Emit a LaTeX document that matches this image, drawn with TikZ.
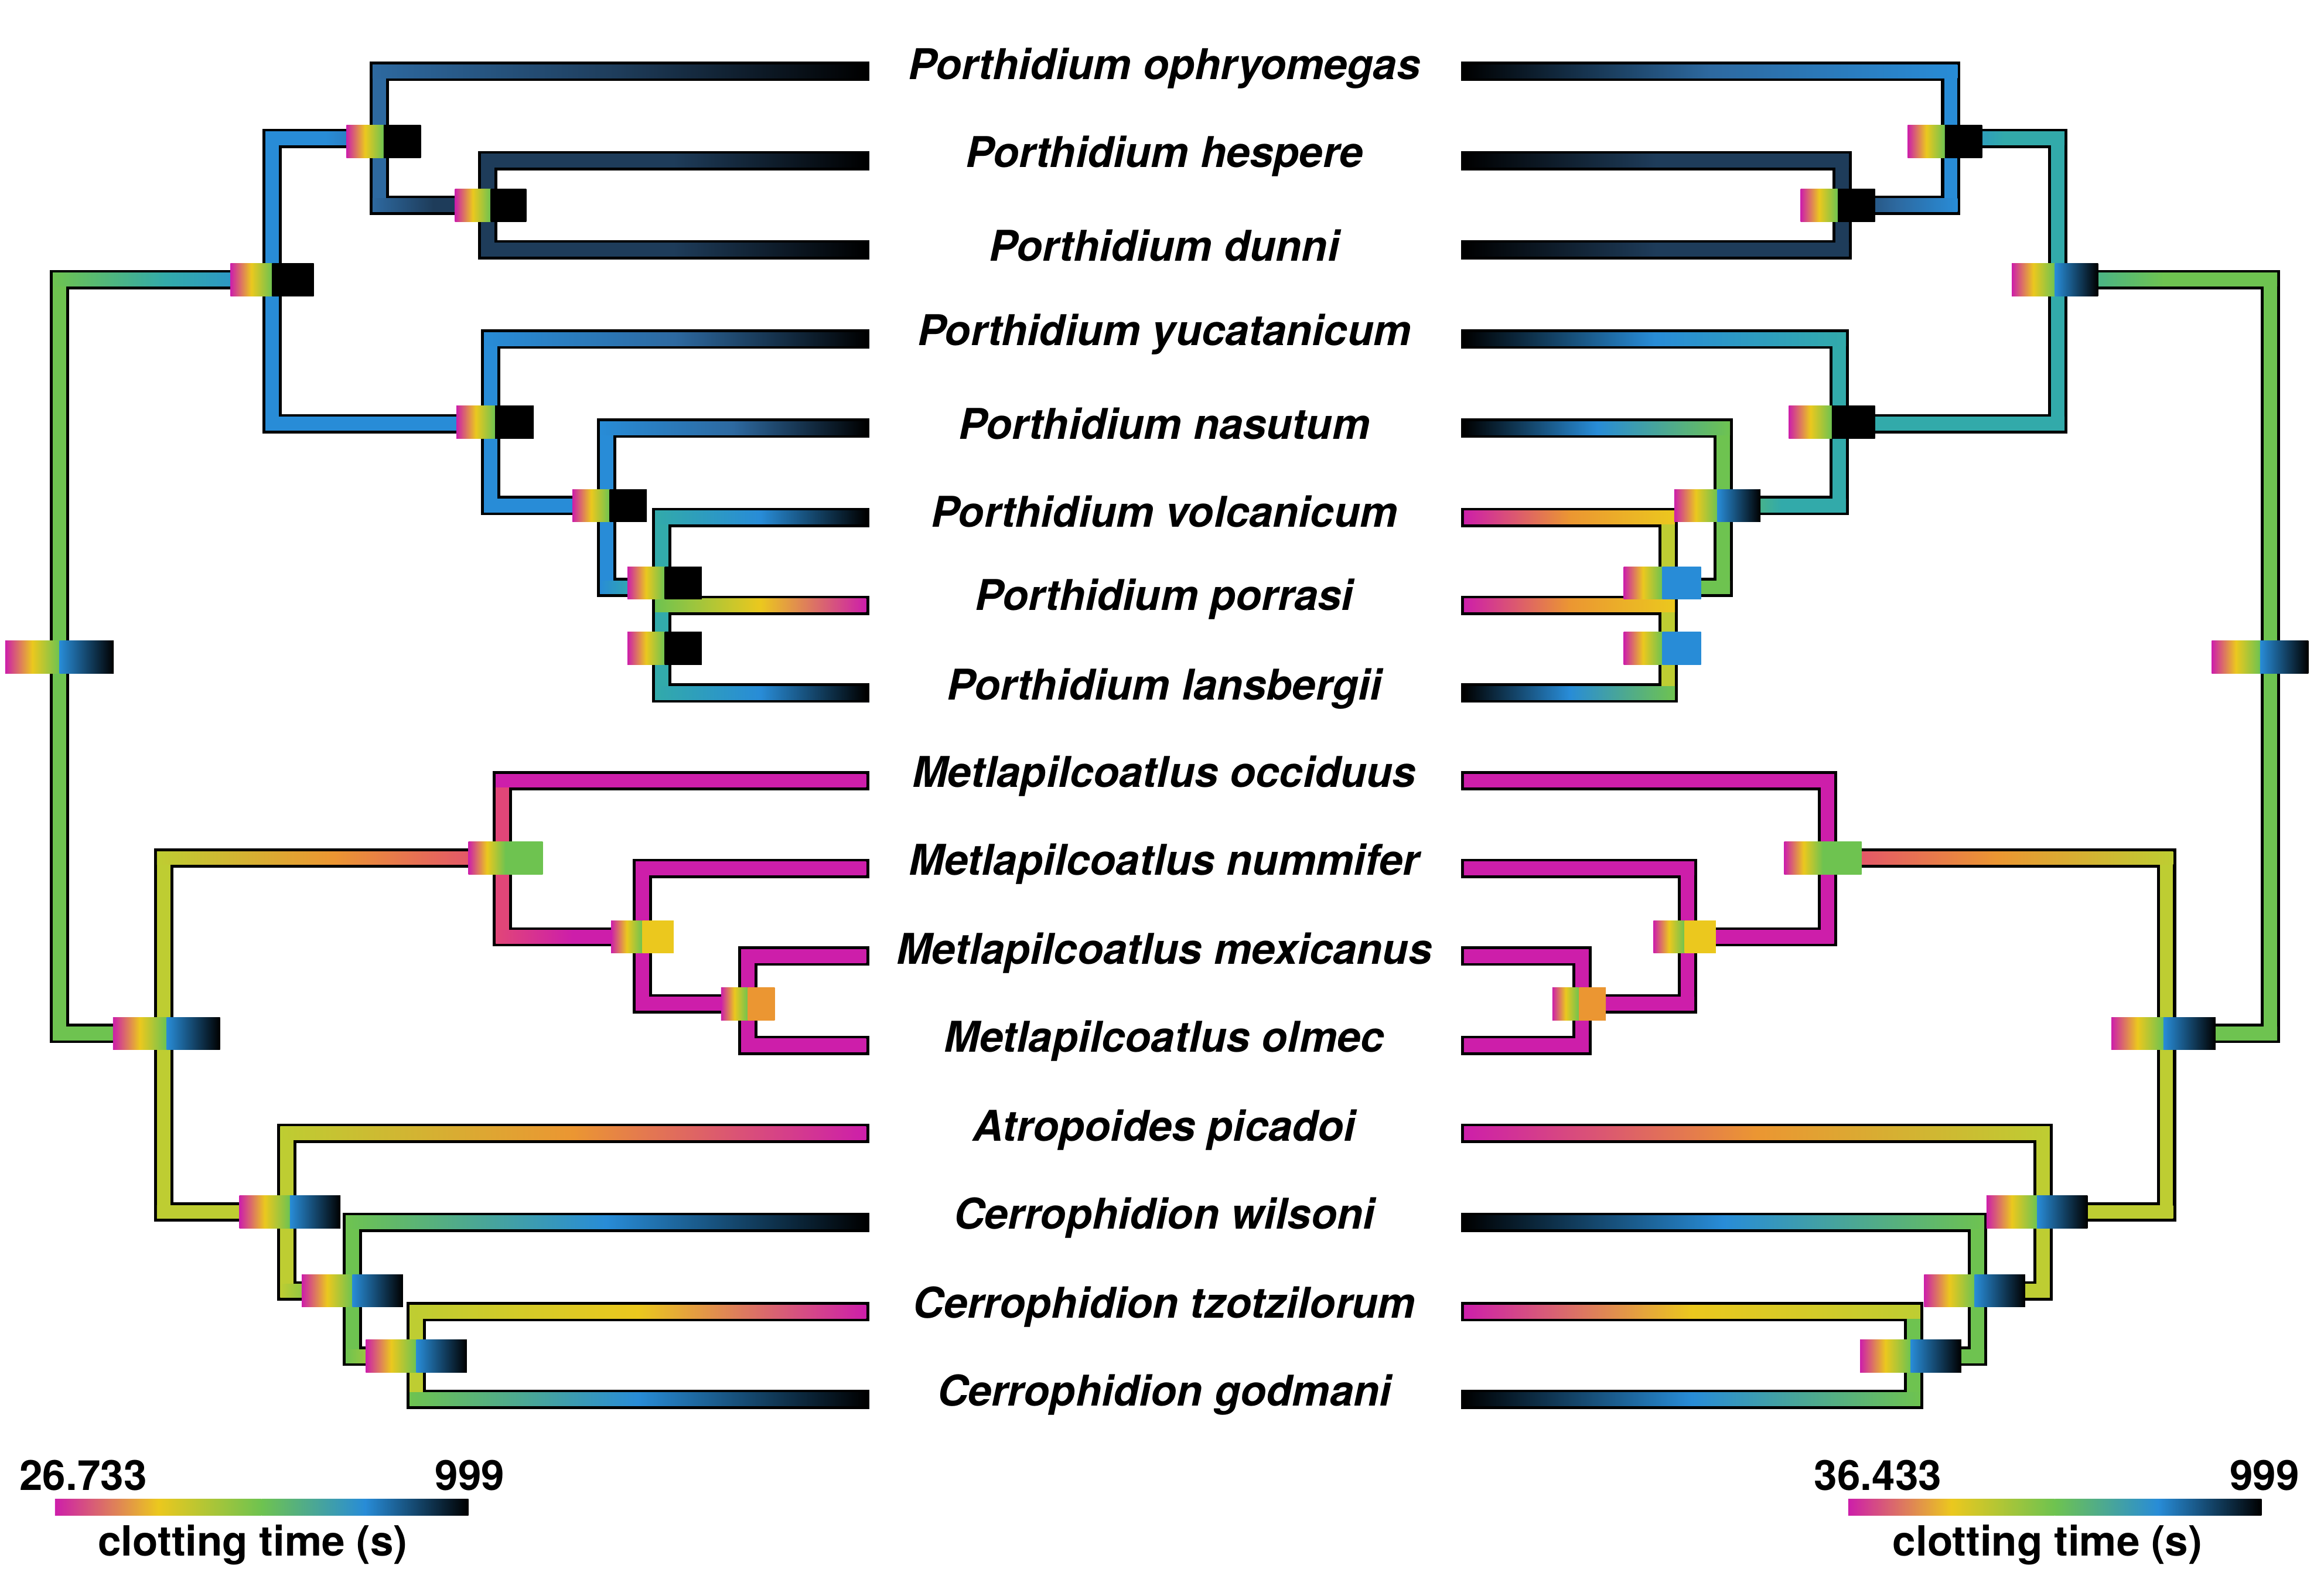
\documentclass[tikz,border=0pt]{standalone}
\usepackage{fontspec}
\setmainfont{TeX Gyre Heros}
\definecolor{mg}{RGB}{205,30,170}
\definecolor{rd}{RGB}{225,70,120}
\definecolor{orc}{RGB}{235,150,50}
\definecolor{yl}{RGB}{235,200,30}
\definecolor{yg}{RGB}{190,205,50}
\definecolor{gn}{RGB}{110,195,80}
\definecolor{tl}{RGB}{50,170,170}
\definecolor{bl}{RGB}{40,140,215}
\definecolor{sb}{RGB}{45,105,160}
\definecolor{nv}{RGB}{30,60,90}
\definecolor{bk}{RGB}{0,0,0}
\newif\ifoutl
\newcommand{\hb}[6]{\ifoutl\fill[black] (#1-6.5,#3-6.5) rectangle (#2+6.5,#3+6.5);\else
 \shade[left color=#4, right color=#6, middle color=#5] (#1-4.5,#3-4.5) rectangle (#2+4.5,#3+4.5);\fi}
\newcommand{\vb}[4]{\ifoutl\fill[black] (#1-6.5,#2-6.5) rectangle (#1+6.5,#3+6.5);\else
 \fill[#4] (#1-4.5,#2-4.5) rectangle (#1+4.5,#3+4.5);\fi}
\newcommand{\nb}[5]{\shade[left color=mg, right color=gn, middle color=yl] (#1-#3/2,#2-11) rectangle (#1,#2+11);
 \shade[left color=#4, right color=#5] (#1,#2-11) rectangle (#1+#3/2,#2+11);}
\newcommand{\treeL}{%
\vb{40}{188}{695}{gn}
\hb{40}{183}{188}{gn}{tl}{bl}
\vb{183}{93}{285}{bl}
\hb{183}{255}{93}{bl}{bl}{sb}
\vb{255}{48}{138}{sb}
\hb{255}{578}{48}{sb}{nv}{bk}
\hb{255}{328}{138}{sb}{nv}{nv}
\vb{328}{108}{168}{nv}
\hb{328}{578}{108}{nv}{nv}{bk}
\hb{328}{578}{168}{nv}{nv}{bk}
\hb{183}{330}{285}{bl}{bl}{bl}
\vb{330}{228}{340}{bl}
\hb{330}{578}{228}{bl}{sb}{bk}
\hb{330}{408}{340}{bl}{bl}{bl}
\vb{408}{288}{395}{bl}
\hb{408}{578}{288}{bl}{sb}{bk}
\hb{408}{445}{395}{bl}{tl}{tl}
\vb{445}{348}{466}{tl}
\hb{445}{578}{348}{tl}{bl}{bk}
\hb{445}{578}{407}{gn}{yl}{mg}
\hb{445}{578}{466}{tl}{bl}{bk}
\hb{40}{110}{695}{gn}{gn}{yg}
\vb{110}{577}{815}{yg}
\hb{110}{338}{577}{yg}{orc}{rd}
\vb{338}{525}{630}{rd}
\hb{338}{578}{525}{mg}{mg}{mg}
\hb{338}{432}{630}{rd}{mg}{mg}
\vb{432}{584}{675}{mg}
\hb{432}{578}{584}{mg}{mg}{mg}
\hb{432}{503}{675}{mg}{mg}{mg}
\vb{503}{643}{703}{mg}
\hb{503}{578}{643}{mg}{mg}{mg}
\hb{503}{578}{703}{mg}{mg}{mg}
\hb{110}{193}{815}{yg}{yg}{yg}
\vb{193}{762}{868}{yg}
\hb{193}{578}{762}{yg}{orc}{mg}
\hb{193}{237}{868}{yg}{gn}{gn}
\vb{237}{822}{912}{gn}
\hb{237}{578}{822}{gn}{bl}{bk}
\hb{237}{280}{912}{gn}{yg}{yg}
\vb{280}{882}{941}{yg}
\hb{280}{578}{882}{yg}{yl}{mg}
\hb{280}{578}{941}{gn}{bl}{bk}}
\newcommand{\treeR}{%
\vb{1527}{188}{695}{gn}
\hb{1384}{1527}{188}{tl}{gn}{gn}
\vb{1384}{93}{285}{tl}
\hb{1312}{1384}{93}{bl}{tl}{tl}
\vb{1312}{48}{138}{bl}
\hb{989}{1312}{48}{bk}{sb}{bl}
\hb{1239}{1312}{138}{nv}{sb}{bl}
\vb{1239}{108}{168}{nv}
\hb{989}{1239}{108}{bk}{nv}{nv}
\hb{989}{1239}{168}{bk}{nv}{nv}
\hb{1237}{1384}{285}{tl}{tl}{tl}
\vb{1237}{228}{340}{tl}
\hb{989}{1237}{228}{bk}{bl}{tl}
\hb{1159}{1237}{340}{gn}{tl}{tl}
\vb{1159}{288}{395}{gn}
\hb{989}{1159}{288}{bk}{bl}{gn}
\hb{1122}{1159}{395}{yg}{gn}{gn}
\vb{1122}{348}{466}{yg}
\hb{989}{1122}{348}{mg}{orc}{yl}
\hb{989}{1122}{407}{mg}{orc}{yl}
\hb{989}{1122}{466}{bk}{bl}{gn}
\hb{1457}{1527}{695}{yg}{gn}{gn}
\vb{1457}{577}{815}{yg}
\hb{1229}{1457}{577}{rd}{orc}{yg}
\vb{1229}{525}{630}{mg}
\hb{989}{1229}{525}{mg}{mg}{mg}
\hb{1135}{1229}{630}{mg}{mg}{mg}
\vb{1135}{584}{675}{mg}
\hb{989}{1135}{584}{mg}{mg}{mg}
\hb{1064}{1135}{675}{mg}{mg}{mg}
\vb{1064}{643}{703}{mg}
\hb{989}{1064}{643}{mg}{mg}{mg}
\hb{989}{1064}{703}{mg}{mg}{mg}
\hb{1374}{1457}{815}{yg}{yg}{yg}
\vb{1374}{762}{868}{yg}
\hb{989}{1374}{762}{mg}{orc}{yg}
\hb{1330}{1374}{868}{gn}{yg}{yg}
\vb{1330}{822}{912}{gn}
\hb{989}{1330}{822}{bk}{bl}{gn}
\hb{1287}{1330}{912}{gn}{gn}{gn}
\vb{1287}{882}{941}{gn}
\hb{989}{1287}{882}{mg}{yl}{yg}
\hb{989}{1287}{941}{bk}{bl}{gn}}
\begin{document}
\begin{tikzpicture}[x=1pt,y=-1pt,
 taxon/.style={font=\fontsize{28.5}{32}\selectfont\bfseries\itshape, anchor=center},
 lab/.style={font=\fontsize{28}{32}\selectfont\bfseries}]
\useasboundingbox[fill=white] (0,0) rectangle (1563,1073);
\outltrue \treeL \treeR
\outlfalse \treeL \treeR
% node boxes left
\nb{40}{442}{73}{bl}{bk}
\nb{183}{188}{56}{bk}{bk}
\nb{258}{95}{50}{bk}{bk}
\nb{330}{138}{48}{bk}{bk}
\nb{333}{284}{52}{bk}{bk}
\nb{410}{340}{50}{bk}{bk}
\nb{447}{392}{50}{bk}{bk}
\nb{447}{436}{50}{bk}{bk}
\nb{112}{695}{72}{bl}{bk}
\nb{340}{577}{50}{gn}{gn}
\nb{432}{630}{42}{yl}{yl}
\nb{503}{675}{36}{orc}{orc}
\nb{195}{815}{68}{bl}{bk}
\nb{237}{868}{68}{bl}{bk}
\nb{280}{912}{68}{bl}{bk}
% node boxes right
\nb{1520}{442}{65}{bl}{bk}
\nb{1382}{188}{58}{bl}{bk}
\nb{1308}{95}{50}{bk}{bk}
\nb{1236}{138}{50}{bk}{bk}
\nb{1232}{284}{58}{bk}{bk}
\nb{1155}{340}{58}{bl}{bk}
\nb{1118}{392}{52}{bl}{bl}
\nb{1118}{436}{52}{bl}{bl}
\nb{1455}{695}{70}{bl}{bk}
\nb{1226}{577}{52}{gn}{gn}
\nb{1133}{630}{42}{yl}{yl}
\nb{1062}{675}{36}{orc}{orc}
\nb{1370}{815}{68}{bl}{bk}
\nb{1328}{868}{68}{bl}{bk}
\nb{1285}{912}{68}{bl}{bk}
% taxa
\node[taxon] (t1) at (783,46) {Porthidium ophryomegas};
\node[taxon] (t2) at (783,105) {Porthidium hespere};
\node[taxon] (t3) at (783,165) {Porthidium dunni};
\node[taxon] (t4) at (783,225) {Porthidium yucatanicum};
\node[taxon] (t5) at (783,285) {Porthidium nasutum};
\node[taxon] (t6) at (783,344) {Porthidium volcanicum};
\node[taxon] (t7) at (783,403) {Porthidium porrasi};
\node[taxon] (t8) at (783,463) {Porthidium lansbergii};
\node[taxon] (t9) at (783,522) {Metlapilcoatlus occiduus};
\node[taxon] (t10) at (783,581) {Metlapilcoatlus nummifer};
\node[taxon] (t11) at (783,641) {Metlapilcoatlus mexicanus};
\node[taxon] (t12) at (783,700) {Metlapilcoatlus olmec};
\node[taxon] (t13) at (783,760) {Atropoides picadoi};
\node[taxon] (t14) at (783,819) {Cerrophidion wilsoni};
\node[taxon] (t15) at (783,879) {Cerrophidion tzotzilorum};
\node[taxon] (t16) at (783,938) {Cerrophidion godmani};
% legends
\shade[left color=mg, right color=gn, middle color=yl] (37,1008) rectangle (176,1019);
\shade[left color=gn, right color=bk, middle color=bl] (176,1008) rectangle (315,1019);
\node[lab] (l1) at (56,992) {26.733};
\node[lab] (l2) at (316,992) {999};
\node[lab] (l3) at (170,1039) {clotting time (s)};
\shade[left color=mg, right color=gn, middle color=yl] (1243,1008) rectangle (1382,1019);
\shade[left color=gn, right color=bk, middle color=bl] (1382,1008) rectangle (1521,1019);
\node[lab] (r1) at (1263,992) {36.433};
\node[lab] (r2) at (1523,992) {999};
\node[lab] (r3) at (1377,1039) {clotting time (s)};
\end{tikzpicture}
\end{document}
